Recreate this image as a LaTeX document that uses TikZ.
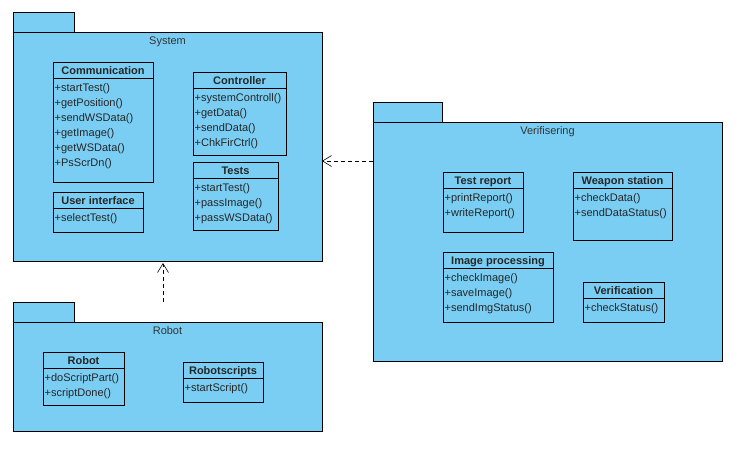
\documentclass[tikz,border=0pt]{standalone}
\usepackage{fontspec}
\setmainfont{Liberation Sans}
\usetikzlibrary{calc,arrows.meta}
\definecolor{pkgblue}{RGB}{122,206,244}
\newcommand\umlclass[7]{%
  \node[classbox, minimum width=#4pt, minimum height=#5pt, anchor=north west] (#1) at (#2,#3) {};
  \node[ctitle, anchor=base] (#1-t) at ($(#1.north)+(0,12)$) {#6};
  \draw[thin] ($(#1.north west)+(0,16)$) -- ($(#1.north east)+(0,16)$);
  \foreach \m [count=\i] in {#7} \node[meth, anchor=base west] (#1-m\i) at ($(#1.north west)+(1.5,{14+15*\i})$) {\m};
}
\newcommand\umlpkg[7]{%
  \node[pkgbox, minimum width=#4pt, minimum height=#5pt, anchor=north west] (#1) at (#2,#3) {};
  \node[pkgbox, minimum width=#6pt, minimum height=20pt, anchor=south west] (#1-tab) at (#1.north west) {};
  \node[plabel, anchor=base] (#1-l) at ($(#1.north)+(0,12)$) {#7};
}
\begin{document}
\begin{tikzpicture}[x=1pt,y=-1pt,
  pkgbox/.style={draw=black, fill=pkgblue, line width=0.9pt, inner sep=0pt, outer sep=0pt},
  classbox/.style={draw=black, line width=0.9pt, inner sep=0pt, outer sep=0pt},
  ctitle/.style={font=\bfseries\fontsize{11}{13}\selectfont, inner sep=0pt, text=black!85},
  meth/.style={font=\fontsize{11}{13}\selectfont, inner sep=0pt, text=black!85},
  plabel/.style={font=\fontsize{11}{13}\selectfont, inner sep=0pt, text=black!80},
  dep/.style={line width=0.6pt, dash pattern=on 4pt off 3pt, -{Straight Barb[length=9pt,width=11pt,line width=0.6pt]}}]
\useasboundingbox (0,0) rectangle (747,451);
% packages
\umlpkg{sys}{13}{32}{309}{229}{61}{System}
\umlpkg{rob}{13}{322}{309}{109}{61}{Robot}
\umlpkg{ver}{373}{122}{349}{239}{69}{Verifisering}
% System classes
\umlclass{comm}{53}{62}{100}{120}{Communication}{+startTest(),+getPosition(),+sendWSData(),+getImage(),+getWSData(),+PsScrDn()}
\umlclass{ctrl}{193}{72}{93}{83}{Controller}{+systemControll(),+getData(),+sendData(),+ChkFirCtrl()}
\umlclass{tests}{193}{162}{85}{68}{Tests}{+startTest(),+passImage(),+passWSData()}
\umlclass{ui}{53}{192}{90}{40}{User interface}{+selectTest()}
% Robot classes
\umlclass{robc}{43}{352}{81}{53}{Robot}{+doScriptPart(),+scriptDone()}
\umlclass{rscr}{183}{362}{80}{40}{Robotscripts}{+startScript()}
% Verifisering classes
\umlclass{trep}{443}{172}{80}{60}{Test report}{+printReport(),+writeReport()}
\umlclass{wst}{573}{172}{99}{68}{Weapon station}{+checkData(),+sendDataStatus()}
\umlclass{imgp}{443}{252}{110}{70}{Image processing}{+checkImage(),+saveImage(),+sendImgStatus()}
\umlclass{verc}{583}{282}{81}{40}{Verification}{+checkStatus()}
% dependencies
\coordinate (robdep) at (163,302);
\coordinate (sysdep) at (163,263);
\coordinate (verdep) at (373,161);
\draw[dep] (robdep) -- (sysdep);
\draw[dep] (verdep) -- (sys.east |- verdep);
\end{tikzpicture}
\end{document}
